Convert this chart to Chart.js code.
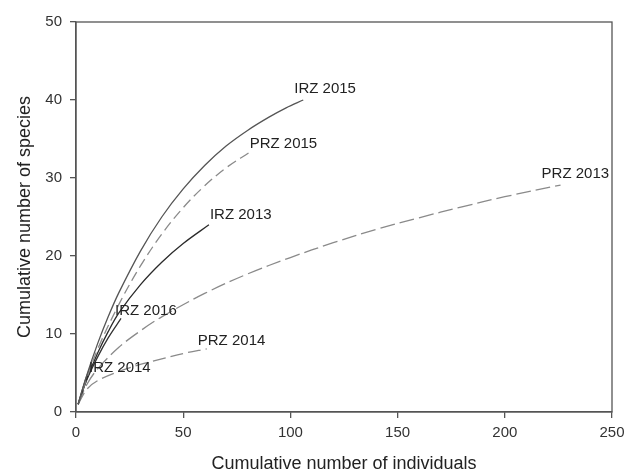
<!DOCTYPE html>
<html>
<head>
<meta charset="utf-8">
<script src="https://cdn.jsdelivr.net/npm/chart.js@4/dist/chart.umd.min.js"></script>
<style>
  html, body { margin: 0; padding: 0; background: #fff; }
  #wrap { width: 638px; height: 475px; }
</style>
</head>
<body>
<div id="wrap"><canvas id="c" width="638" height="475"></canvas></div>
<script>
// Rarefaction curves: cumulative species vs cumulative individuals
const seriesNames = ['IRZ 2015', 'PRZ 2015', 'IRZ 2013', 'PRZ 2013', 'IRZ 2016', 'PRZ 2014', 'IRZ 2014'];

const irz2015X = [1, 5, 10, 15, 20, 30, 40, 50, 60, 70, 80, 90, 98, 106];
const irz2015Y = [1, 4.7, 8.7, 12.2, 15.3, 20.6, 25.0, 28.6, 31.6, 34.1, 36.1, 37.8, 39.0, 40.0];

const prz2015X = [1, 5, 10, 20, 30, 40, 50, 60, 70, 81];
const prz2015Y = [1, 4.3, 8.0, 13.8, 18.7, 22.8, 26.2, 29.0, 31.3, 33.3];

const irz2013X = [1, 5, 10, 15, 20, 30, 40, 50, 62];
const irz2013Y = [1, 4.2, 7.5, 10.3, 12.7, 16.3, 19.2, 21.6, 24.0];

const prz2013X = [1, 5, 10, 20, 30, 40, 60, 80, 100, 120, 140, 160, 180, 200, 226];
const prz2013Y = [1, 3.5, 5.5, 8.3, 10.4, 12.2, 15.2, 17.7, 19.8, 21.7, 23.4, 24.9, 26.3, 27.6, 29.1];

const irz2016X = [1, 5, 10, 15, 21];
const irz2016Y = [1, 4.1, 7.0, 9.5, 12.0];

const prz2014X = [1, 5, 10, 20, 30, 40, 50, 61];
const prz2014Y = [1, 2.9, 4.0, 5.2, 6.1, 6.8, 7.5, 8.1];

const irz2014X = [1, 4, 7];
const irz2014Y = [1, 3.8, 6.0];

const xTicks = [0, 50, 100, 150, 200, 250];
const yTicks = [0, 10, 20, 30, 40, 50];

const xs = [irz2015X, prz2015X, irz2013X, prz2013X, irz2016X, prz2014X, irz2014X];
const ys = [irz2015Y, prz2015Y, irz2013Y, prz2013Y, irz2016Y, prz2014Y, irz2014Y];

// Line styles per series
const lineColors = ['#555555', '#8a8a8a', '#2a2a2a', '#8a8a8a', '#333333', '#8a8a8a', '#444444'];
const lineDash   = [[], [10, 5], [], [15, 5], [], [13, 5], []];
// Label placement relative to each curve's last point (pixels)
const labelShift = [[-9, -11], [0, -8], [1, -10], [-19, -11], [-6, -8], [-9, -8], [-2, 3]];

const FONT = '"Liberation Sans", Arial, sans-serif';

const datasets = seriesNames.map((name, i) => ({
  label: name,
  data: xs[i].map((x, j) => ({ x: x, y: ys[i][j] })),
  borderColor: lineColors[i],
  borderWidth: 1.3,
  borderDash: lineDash[i],
  pointRadius: 0,
  fill: false,
  tension: 0.35
}));

const frameAndLabels = {
  id: 'frameAndLabels',
  afterDatasetsDraw(chart) {
    const ctx = chart.ctx;
    const a = chart.chartArea;
    ctx.save();
    ctx.strokeStyle = '#555';
    ctx.lineWidth = 1.3;
    ctx.strokeRect(a.left, a.top, a.right - a.left, a.bottom - a.top);
    ctx.fillStyle = '#222';
    ctx.font = '15px ' + FONT;
    ctx.textBaseline = 'middle';
    ctx.textAlign = 'left';
    chart.data.datasets.forEach((ds, i) => {
      const last = ds.data[ds.data.length - 1];
      const px = chart.scales.x.getPixelForValue(last.x);
      const py = chart.scales.y.getPixelForValue(last.y);
      ctx.fillText(ds.label, px + labelShift[i][0], py + labelShift[i][1]);
    });
    ctx.restore();
  }
};

new Chart(document.getElementById('c'), {
  type: 'line',
  data: { datasets: datasets },
  options: {
    responsive: false,
    animation: false,
    layout: { padding: { top: 22, right: 26, left: 0, bottom: 0 } },
    plugins: { legend: { display: false }, tooltip: { enabled: false } },
    scales: {
      x: {
        type: 'linear',
        min: 0, max: 250,
        afterFit(s) { s.height = 63; },
        afterBuildTicks(s) { s.ticks = xTicks.map(v => ({ value: v })); },
        border: { display: true, color: '#555', width: 1.3 },
        grid: { drawOnChartArea: false, drawTicks: true, tickLength: 6, color: '#555', lineWidth: 1.3 },
        ticks: { color: '#333', padding: 6, font: { family: FONT, size: 15 } },
        title: {
          display: true,
          text: 'Cumulative number of individuals',
          color: '#222',
          padding: { top: 0, bottom: 0 },
          font: { family: FONT, size: 18 }
        }
      },
      y: {
        type: 'linear',
        min: 0, max: 50,
        afterFit(s) { s.width = 76; },
        afterBuildTicks(s) { s.ticks = yTicks.map(v => ({ value: v })); },
        border: { display: true, color: '#555', width: 1.3 },
        grid: { drawOnChartArea: false, drawTicks: true, tickLength: 6, color: '#555', lineWidth: 1.3 },
        ticks: { color: '#333', padding: 8, font: { family: FONT, size: 15 } },
        title: {
          display: true,
          text: 'Cumulative number of species',
          color: '#222',
          padding: { top: 14, bottom: 0 },
          font: { family: FONT, size: 18 }
        }
      }
    }
  },
  plugins: [frameAndLabels]
});
</script>
</body>
</html>
